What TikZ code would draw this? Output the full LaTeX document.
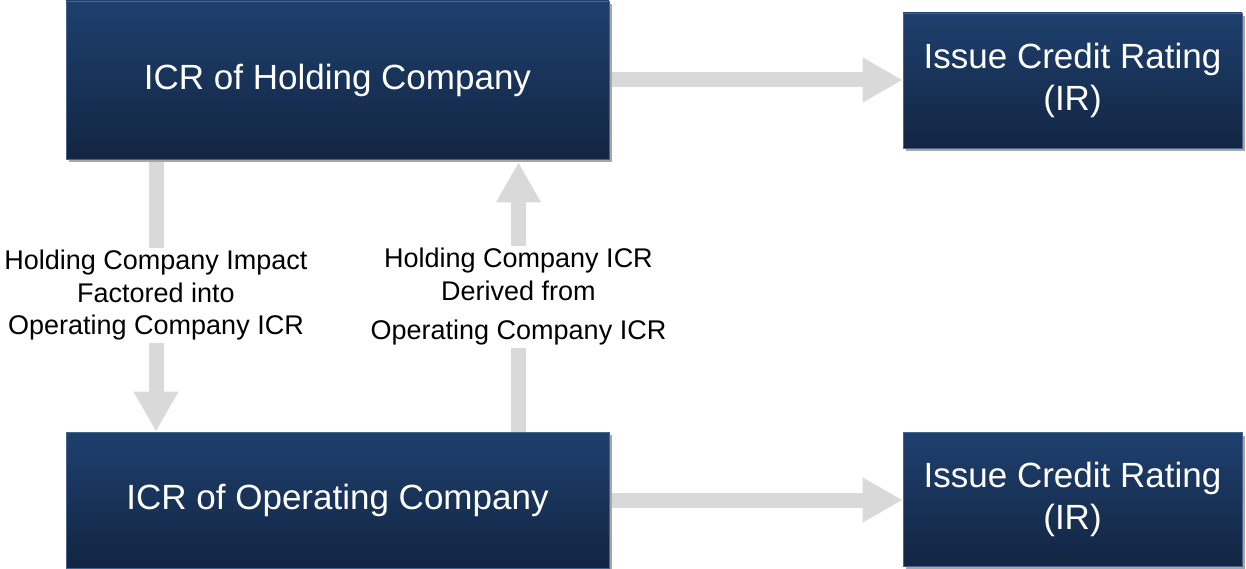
\documentclass[tikz,border=0pt]{standalone}
\usepackage{fontspec}
\setmainfont{Liberation Sans}
\usetikzlibrary{arrows.meta,shadows,backgrounds}
\definecolor{boxtop}{RGB}{30,64,110}
\definecolor{boxbot}{RGB}{19,37,66}
\definecolor{boxedge}{RGB}{70,100,140}
\definecolor{arrgray}{RGB}{217,217,217}
\tikzset{
  box/.style={draw=boxedge, line width=0.6pt, top color=boxtop, bottom color=boxbot,
    text=white, inner sep=0pt, align=center, font={\fontsize{35pt}{42pt}\selectfont},
    drop shadow={shadow xshift=3pt, shadow yshift=-3pt, fill=black!35, opacity=1}},
  conn/.style={draw=arrgray, line width=15pt, -{Triangle[length=40pt, width=42pt]}},
  lbl/.style={fill=white, inner sep=2pt, align=center, font={\fontsize{27pt}{32.5pt}\selectfont}}
}
\begin{document}
\begin{tikzpicture}[x=1pt, y=-1pt]
\useasboundingbox (0,0) rectangle (1246,569);
\node[box, minimum width=543pt, minimum height=158pt] (hc) at (337.5,80) {ICR of Holding Company};
\node[box, minimum width=339pt, minimum height=135pt] (ir1) at (1072.5,80.5) {Issue Credit Rating\\(IR)};
\node[box, minimum width=543pt, minimum height=136pt] (oc) at (337.5,500) {ICR of Operating Company};
\node[box, minimum width=339pt, minimum height=134pt] (ir2) at (1072.5,499.5) {Issue Credit Rating\\(IR)};
\coordinate (dn) at (156,0);
\coordinate (up) at (518.5,0);
\begin{scope}[on background layer]
\draw[conn] ([xshift=3pt]hc.east) -- (ir1.west |- hc.east);
\draw[conn] ([xshift=3pt]oc.east) -- (ir2.west |- oc.east);
\draw[conn] (dn |- hc.south) -- (dn |- oc.north)
  node[lbl, midway] {Holding Company Impact\\Factored into\\Operating Company ICR};
\draw[conn] (up |- oc.north) -- ([yshift=-3pt]up |- hc.south)
  node[lbl, midway] {Holding Company ICR\\Derived from\\[7pt]Operating Company ICR};
\end{scope}
\end{tikzpicture}
\end{document}
